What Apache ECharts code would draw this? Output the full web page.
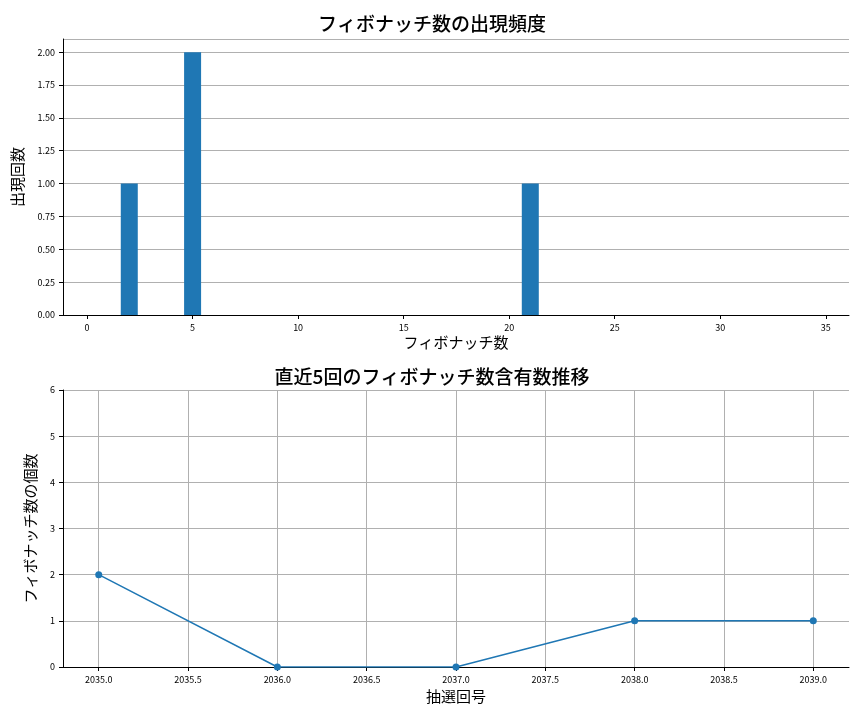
<!DOCTYPE html>
<html><head><meta charset="utf-8">
<script src="https://cdn.jsdelivr.net/npm/echarts@6/dist/echarts.min.js"></script>
<style>html,body{margin:0;padding:0;background:#fff}#c{width:864px;height:720px}</style>
</head><body><div id="c"></div>
<script>
const histNumbers = [2, 5, 21];
const histCounts = [1, 2, 1];
const drawNumbers = [2035, 2036, 2037, 2038, 2039];
const fibCounts = [2, 0, 0, 1, 1];
const histTicks = [0, 5, 10, 15, 20, 25, 30, 35];
const drawTicks = [2035, 2035.5, 2036, 2036.5, 2037, 2037.5, 2038, 2038.5, 2039];

const F = '"Noto Sans CJK JP", "Noto Sans", sans-serif';
const chart = echarts.init(document.getElementById('c'));
const axisLine = {show: true, onZero: false, lineStyle: {color: '#000', width: 1}};
const tick = {show: true, length: 4, lineStyle: {color: '#000'}};
const lab = {color: '#000', fontSize: 9, fontFamily: F};
chart.setOption({
  animation: false,
  title: [
    {text: 'フィボナッチ数の出現頻度', left: 'center', top: 9, textStyle: {fontSize: 19, fontWeight: 500, fontFamily: F, color: '#000'}},
    {text: '直近5回のフィボナッチ数含有数推移', left: 'center', top: 362, textStyle: {fontSize: 19, fontWeight: 500, fontFamily: F, color: '#000'}}
  ],
  grid: [
    {left: 63, right: 15, top: 39, height: 276},
    {left: 63, right: 15, top: 390, height: 277}
  ],
  xAxis: [
    {gridIndex: 0, type: 'value', min: -1.14, max: 36.1,
     name: 'フィボナッチ数', nameLocation: 'middle', nameGap: 20, nameTextStyle: {fontSize: 15, fontFamily: F, color: '#000'},
     axisLine, axisTick: {...tick, customValues: histTicks}, splitLine: {show: false},
     axisLabel: {...lab, customValues: histTicks}},
    {gridIndex: 1, type: 'value', min: 2034.8, max: 2039.2,
     name: '抽選回号', nameLocation: 'middle', nameGap: 22, nameTextStyle: {fontSize: 15, fontFamily: F, color: '#000'},
     axisLine, axisTick: {...tick, customValues: drawTicks}, splitLine: {show: true, lineStyle: {color: '#b0b0b0'}},
     axisLabel: {...lab, customValues: drawTicks, formatter: v => v.toFixed(1)}}
  ],
  yAxis: [
    {gridIndex: 0, type: 'value', min: 0, max: 2.1, interval: 0.25,
     name: '出現回数', nameLocation: 'middle', nameGap: 38, nameTextStyle: {fontSize: 15, fontFamily: F, color: '#000'},
     axisLine, axisTick: tick, splitLine: {show: true, lineStyle: {color: '#b0b0b0'}},
     axisLabel: {...lab, showMaxLabel: false, formatter: v => v.toFixed(2)}},
    {gridIndex: 1, type: 'value', min: 0, max: 6, interval: 1,
     name: 'フィボナッチ数の個数', nameLocation: 'middle', nameGap: 25, nameTextStyle: {fontSize: 15, fontFamily: F, color: '#000'},
     axisLine, axisTick: tick, splitLine: {show: true, lineStyle: {color: '#b0b0b0'}}, axisLabel: lab}
  ],
  series: [
    {type: 'bar', xAxisIndex: 0, yAxisIndex: 0, barWidth: 17, itemStyle: {color: '#1f77b4'},
     data: histNumbers.map((n, i) => [n, histCounts[i]])},
    {type: 'line', xAxisIndex: 1, yAxisIndex: 1, symbol: 'circle', symbolSize: 7,
     lineStyle: {color: '#1f77b4', width: 1.5}, itemStyle: {color: '#1f77b4'},
     data: drawNumbers.map((n, i) => [n, fibCounts[i]])}
  ]
});
</script></body></html>
